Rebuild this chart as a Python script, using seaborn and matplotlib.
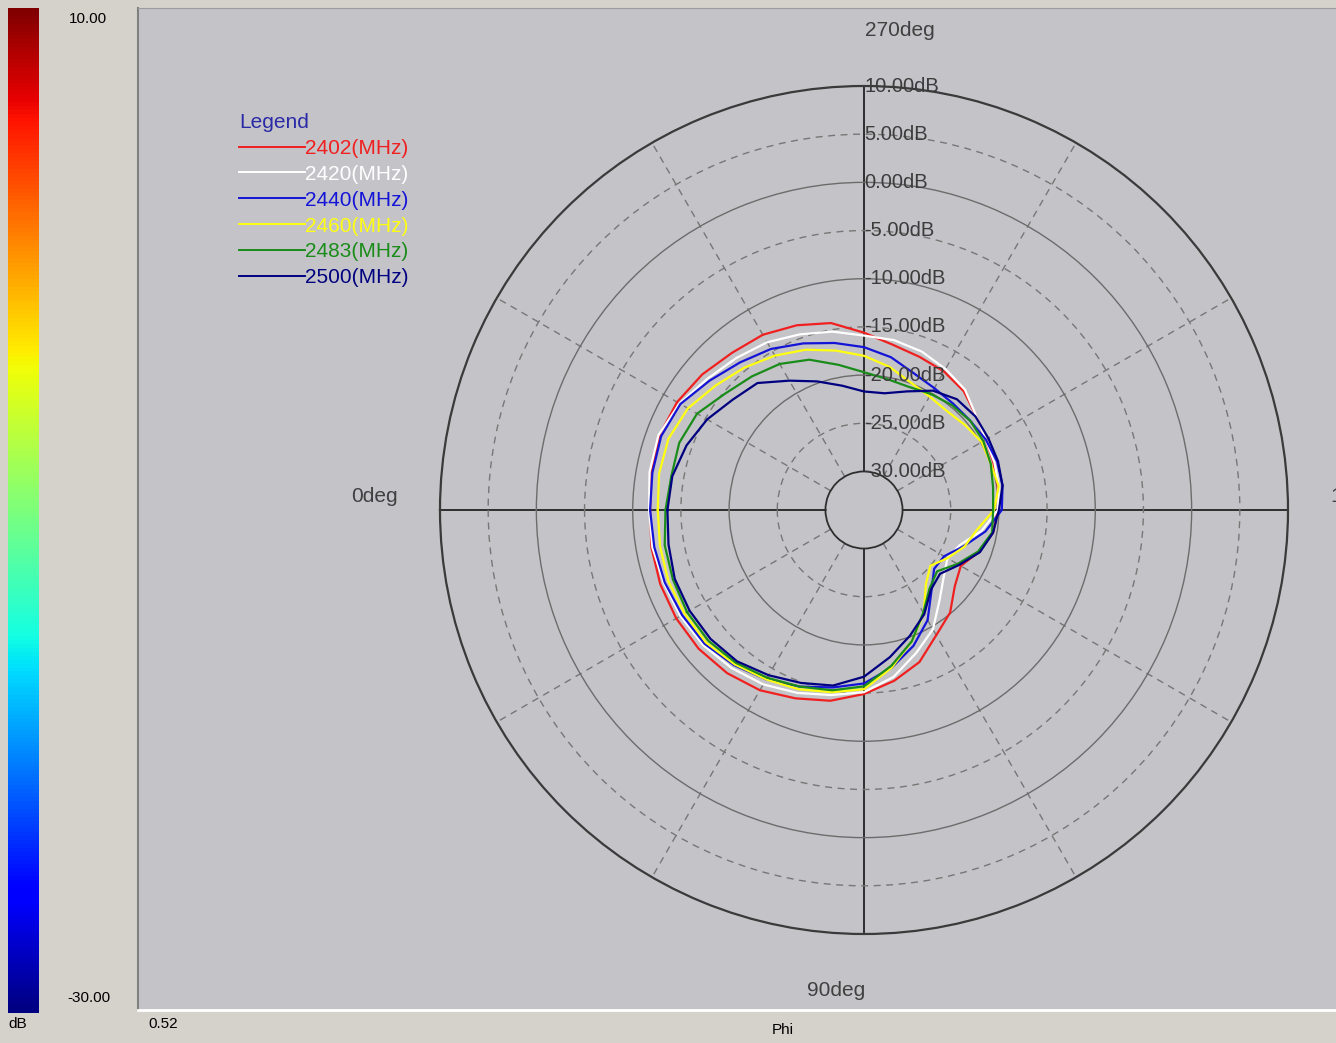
import numpy as np
import pandas as pd
import matplotlib
matplotlib.use('Agg')
import matplotlib.pyplot as plt
import seaborn as sns
from matplotlib import font_manager, cm, colors
from matplotlib.lines import Line2D

# Phi angles (deg) and measured gain (dB) for each frequency
phi_deg = list(range(0, 360, 10))

gain_2402 = [-11.8, -11.6, -11.5, -11.5, -11.6, -11.9, -12.4, -13.2, -13.9, -14.9, -16.0, -17.2,
             -19.0, -20.1, -21.7, -22.4, -21.3, -20.4, -20.1, -19.9, -19.7, -19.4, -18.8, -17.9,
             -17.4, -17.1, -16.6, -15.6, -14.3, -13.6, -13.0, -12.7, -12.1, -11.6, -11.4, -11.6]
gain_2420 = [-11.7, -11.7, -11.9, -12.0, -12.2, -12.6, -13.1, -13.8, -14.5, -15.1, -16.4, -18.2,
             -19.7, -21.8, -23.2, -24.0, -23.4, -21.6, -20.1, -19.8, -19.6, -19.4, -18.8, -17.7,
             -17.1, -16.5, -16.1, -15.9, -15.2, -14.6, -13.9, -13.4, -12.8, -11.9, -11.3, -11.4]
gain_2440 = [-11.8, -11.9, -12.0, -12.2, -12.4, -13.0, -13.7, -14.5, -15.3, -16.0, -17.4, -19.0,
             -20.8, -23.1, -24.5, -24.4, -23.0, -21.2, -19.7, -19.4, -19.3, -19.4, -19.6, -19.6,
             -19.4, -18.9, -17.9, -17.1, -16.4, -15.6, -14.7, -14.0, -13.1, -12.0, -11.6, -11.7]
gain_2460 = [-12.6, -12.5, -12.4, -12.5, -12.6, -13.1, -13.7, -14.2, -14.8, -15.4, -17.4, -19.5,
             -21.6, -24.0, -25.0, -24.0, -22.9, -22.1, -20.5, -19.8, -20.0, -19.9, -20.3, -20.6,
             -20.4, -19.9, -18.9, -18.0, -17.2, -16.3, -15.5, -14.7, -13.9, -12.9, -12.4, -12.4]
gain_2483 = [-13.4, -13.0, -12.9, -12.8, -12.9, -13.3, -13.9, -14.5, -15.0, -15.7, -17.6, -19.5,
             -21.7, -23.4, -24.1, -22.8, -21.4, -20.5, -20.6, -20.4, -20.0, -19.7, -19.6, -19.8,
             -20.1, -20.4, -20.2, -19.7, -18.7, -17.4, -16.5, -15.9, -15.2, -14.0, -13.6, -13.7]
gain_2500 = [-13.6, -13.4, -13.1, -13.1, -13.2, -13.5, -14.2, -14.9, -15.5, -16.7, -18.5, -20.1,
             -21.5, -23.2, -23.7, -22.6, -21.2, -20.4, -20.0, -19.4, -19.2, -19.1, -18.9, -19.0,
             -19.7, -20.9, -21.7, -21.7, -20.9, -19.8, -18.5, -16.8, -16.2, -15.2, -14.4, -13.8]

freq_labels = ['2402(MHz)', '2420(MHz)', '2440(MHz)', '2460(MHz)', '2483(MHz)', '2500(MHz)']
line_colors = ['#f02020', '#ffffff', '#1414d8', '#ffff10', '#1a8c1a', '#000080']
all_gains = [gain_2402, gain_2420, gain_2440, gain_2460, gain_2483, gain_2500]

r_grid = [-25, -20, -15, -10, -5, 0, 5]
r_labels = [10, 5, 0, -5, -10, -15, -20, -25, -30]
theta_grid = list(range(0, 360, 30))
cbar_top, cbar_bottom = 10.00, -30.00

# font
names = {f.name for f in font_manager.fontManager.ttflist}
font = 'Liberation Sans' if 'Liberation Sans' in names else 'DejaVu Sans'
plt.rcParams['font.family'] = [font, 'DejaVu Sans']

W, H = 1336, 1043
def fx(px):
    return px / W
def fy(py):
    return 1 - py / H

# long-form table, closed loops
frames = []
for lab, g in zip(freq_labels, all_gains):
    frames.append(pd.DataFrame({'theta': np.deg2rad(phi_deg + [360]),
                                'gain': g + [g[0]],
                                'freq': lab}))
df = pd.concat(frames, ignore_index=True)

fig = plt.figure(figsize=(W / 100, H / 100), dpi=100, facecolor='#d5d2cc')

# grey plot panel
bg = fig.add_axes([fx(138), fy(1010), 1 - fx(138) + 0.01, (1010 - 8) / H])
bg.set_facecolor('#c4c3c7')
bg.set_xticks([])
bg.set_yticks([])
bg.spines['right'].set_visible(False)
bg.spines['left'].set_color('#808080')
bg.spines['left'].set_linewidth(1.5)
bg.spines['top'].set_color('#9c9c9c')
bg.spines['bottom'].set_color('#ffffff')
bg.spines['bottom'].set_linewidth(2)

# colour scale on the left
cax = fig.add_axes([fx(8), fy(1013), 31 / W, (1013 - 8) / H])
fig.colorbar(cm.ScalarMappable(norm=colors.Normalize(cbar_bottom, cbar_top), cmap='jet'), cax=cax)
cax.set_axis_off()

# polar plot
ax = fig.add_axes([fx(440), fy(934), 848 / W, 848 / H], projection='polar')
ax.set_facecolor('none')
ax.set_theta_zero_location('W')
ax.set_theta_direction(1)

sns.lineplot(data=df, x='theta', y='gain', hue='freq', hue_order=freq_labels,
             palette=dict(zip(freq_labels, line_colors)), sort=False, estimator=None,
             linewidth=1.6, legend=False, ax=ax)
ax.set_xlabel('')
ax.set_ylabel('')
ax.set_ylim(-30, 10)
ax.set_rorigin(-34)

ax.set_rticks(r_grid)
ax.set_yticklabels([])
ax.set_thetagrids(theta_grid, labels=[''] * len(theta_grid))
ax.tick_params(length=0)

for v, gl in zip(r_grid, ax.yaxis.get_gridlines()):
    if v % 10 == 0:
        gl.set_color('#6c6c6c')
        gl.set_linestyle('-')
        gl.set_linewidth(1.0)
    else:
        gl.set_color('#777777')
        gl.set_linestyle((0, (5, 4)))
        gl.set_linewidth(1.0)

for a, gl in zip(theta_grid, ax.xaxis.get_gridlines()):
    if a % 90 == 0:
        gl.set_color('#2e2e2e')
        gl.set_linestyle('-')
        gl.set_linewidth(1.4)
    else:
        gl.set_color('#777777')
        gl.set_linestyle((0, (5, 4)))
        gl.set_linewidth(1.0)

ax.spines['polar'].set_color('#3a3a3a')
ax.spines['polar'].set_linewidth(1.6)
ax.spines['inner'].set_color('#2e2e2e')
ax.spines['inner'].set_linewidth(1.3)

for v in r_labels:
    ax.text(np.deg2rad(270), v, f'{v:.2f}dB', ha='left', va='center', fontsize=14.5,
            color='#3c3c3c', zorder=5, clip_on=False)

# angle labels
tcol = '#404040'
fig.text(fx(865), fy(30), '270deg', ha='left', va='center', fontsize=15, color=tcol)
fig.text(fx(865), fy(990), '90deg', ha='right', va='center', fontsize=15, color=tcol)
fig.text(fx(398), fy(497), '0deg', ha='right', va='center', fontsize=15, color=tcol)
fig.text(fx(1330), fy(497), '180deg', ha='left', va='center', fontsize=15, color=tcol)

# legend
handles = [Line2D([], [], color=c, lw=1.4) for c in line_colors]
leg = fig.legend(handles, freq_labels, loc='upper left', bbox_to_anchor=(fx(239), fy(113)),
                 frameon=False, title='Legend', alignment='left', handlelength=3.15,
                 handletextpad=0.0, labelspacing=0.33, borderpad=0, borderaxespad=0,
                 labelcolor='linecolor', prop={'size': 15},
                 title_fontproperties={'size': 15})
leg.get_title().set_color('#2a2aa8')

# small captions
fig.text(fx(88), fy(19), '10.00', ha='center', va='center', fontsize=11, color='black')
fig.text(fx(89), fy(998), '-30.00', ha='center', va='center', fontsize=11, color='black')
fig.text(fx(8), fy(1024), 'dB', ha='left', va='center', fontsize=11, color='black')
fig.text(fx(148), fy(1024), '0.52', ha='left', va='center', fontsize=11, color='black')
fig.text(fx(772), fy(1030), 'Phi', ha='left', va='center', fontsize=11, color='black')

fig.savefig('out.png', dpi=100, facecolor=fig.get_facecolor())
